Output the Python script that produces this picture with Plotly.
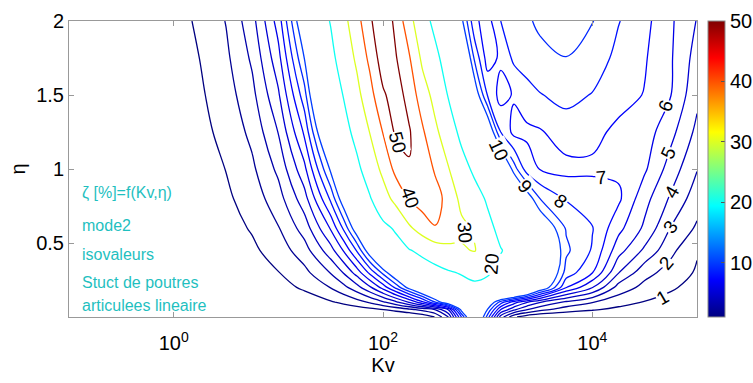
import plotly.graph_objects as go

# ---------------- data ----------------
log_kv = [-1.0, -0.5, 0.0, 0.25, 0.5, 0.75, 1.0, 1.25, 1.5, 1.625, 1.75, 1.875,
          2.0, 2.125, 2.25, 2.375, 2.5, 2.625, 2.75, 2.875, 3.0, 3.125, 3.25,
          3.375, 3.5, 3.75, 4.0, 4.25, 4.5, 4.75, 5.0]
eta = [0.0, 0.05, 0.1, 0.2, 0.3, 0.45, 0.6, 0.8, 1.0, 1.25, 1.5, 1.75, 2.0]

zeta_eta_000 = [0, 0, 0, 0, 0, 0, 0, 0, 0, 0, 0, 0,
                0, 0, 0, 0.3, 1.05, 3.0, 8.0, 13, 8.5, 3.5, 1.2, 0.4, 0.1, 0, 0, 0, 0, 0, 0]
zeta_eta_005 = [0.001, 0.003, 0.01, 0.017, 0.03, 0.054, 0.097, 0.17, 0.31, 0.41, 0.54, 0.73,
                0.97, 1.29, 1.72, 2.3, 3.06, 5.1, 10.5, 13.5, 9.9, 6.0, 4.2, 3.05, 2.3, 1.5, 1.1, 0.75, 0.5, 0.3, 0.15]
zeta_eta_010 = [0.003, 0.009, 0.028, 0.05, 0.09, 0.16, 0.28, 0.5, 0.9, 1.2, 1.6, 2.13,
                2.84, 3.8, 5.05, 6.7, 9.0, 11.5, 13.5, 14, 11.5, 8.5, 6.5, 5.05, 4.05, 2.8, 2.05, 1.4, 0.95, 0.62, 0.3]
zeta_eta_020 = [0.0065, 0.02, 0.065, 0.115, 0.2, 0.36, 0.65, 1.15, 2.04, 2.72, 3.62, 4.84,
                6.4, 8.3, 10.5, 12.5, 14.5, 16, 17.5, 18.5, 18.5, 17.5, 17, 15, 11.5, 7.05, 5.05, 2.6, 1.7, 1.15, 0.6]
zeta_eta_030 = [0.0097, 0.031, 0.097, 0.17, 0.31, 0.54, 0.97, 1.72, 3.06, 4.08, 5.43, 7.26,
                9.3, 11.5, 13.5, 15.5, 17.5, 19.3, 20.5, 22, 20.5, 18.5, 17, 16, 13, 8.6, 7.05, 4.05, 2.35, 1.6, 0.88]
zeta_eta_045 = [0.014, 0.046, 0.145, 0.26, 0.46, 0.81, 1.45, 2.58, 4.6, 6.1, 8.1, 10.9,
                14.0, 17, 19.5, 22, 24.5, 26.5, 29, 30.5, 26, 20.3, 18, 16.5, 13, 9.2, 7.9, 5.4, 3.8, 2.25, 1.1]
zeta_eta_060 = [0.019, 0.061, 0.19, 0.34, 0.61, 1.09, 1.94, 3.44, 6.1, 8.2, 10.9, 14.5,
                18, 21, 28.5, 34, 39.5, 38, 32, 29, 22, 18, 16, 14, 11.5, 8.9, 8.05, 6.3, 4.8, 2.95, 1.85]
zeta_eta_080 = [0.026, 0.08, 0.26, 0.46, 0.82, 1.45, 2.58, 4.6, 8.2, 10.9, 14.5, 19.4,
                25.8, 33, 40.5, 45, 44.5, 36, 27.5, 23, 19.0, 15, 13, 10.8, 9.0, 7.9, 7.6, 7.2, 5.35, 3.85, 2.45]
zeta_eta_100 = [0.032, 0.10, 0.32, 0.57, 1.02, 1.81, 3.23, 5.74, 10.2, 13.6, 18.1, 24.2,
                32.3, 43, 49.5, 47.5, 38.5, 30.5, 23, 18.5, 16.5, 12.5, 9.5, 7.5, 6.95, 6.7, 6.8, 6.8, 6.15, 4.55, 3.05]
zeta_eta_125 = [0.04, 0.13, 0.40, 0.72, 1.28, 2.26, 4.04, 7.2, 12.8, 17.0, 22.6, 30.3,
                40.4, 52, 51, 41.5, 32, 24, 18, 14, 11.5, 8.0, 6.7, 6.8, 6.9, 7.5, 7.3, 6.75, 6.5, 5.3, 3.75]
zeta_eta_150 = [0.048, 0.15, 0.48, 0.86, 1.53, 2.72, 4.85, 8.6, 15.3, 20.4, 27.2, 36.3,
                48.5, 55, 46, 35, 26.5, 19.5, 15, 11, 7.9, 6.6, 7.1, 7.6, 7.95, 8.3, 7.95, 7.4, 6.95, 6.02, 4.25]
zeta_eta_175 = [0.056, 0.18, 0.57, 1.01, 1.79, 3.17, 5.65, 10.05, 17.9, 23.8, 31.7, 42.4,
                55.5, 50.5, 41, 28, 21.5, 17, 12.5, 8.8, 6.5, 7.2, 8.2, 8.5, 8.7, 8.98, 8.6, 7.7, 7.1, 6.1, 4.6]
zeta_eta_200 = [0.064, 0.20, 0.65, 1.15, 2.04, 3.63, 6.45, 11.5, 20.4, 27.2, 36.2, 48.4,
                58, 47, 33.5, 22.6, 18.3, 14, 10.3, 7.2, 6.6, 8.0, 8.4, 8.85, 9.2, 9.5, 9.05, 8.05, 7.3, 6.15, 4.95]

levels_low = [1, 2, 3, 4, 5, 6, 7, 8, 9, 10]
levels_high = [20, 30, 40, 50]
cbar_ticks = [10, 20, 30, 40, 50]
xtick_vals = [0, 2, 4]
xtick_text = ["10<sup>0</sup>", "10<sup>2</sup>", "10<sup>4</sup>"]
ytick_vals = [0.5, 1, 1.5, 2]
ytick_text = ["0.5", "1", "1.5", "2"]

# contour labels (text, log10 Kv, eta, angle)
label_text = ["50", "40", "30", "20", "10", "9", "8", "7", "6", "5", "4", "3", "2", "1"]
label_x = [2.14, 2.26, 2.78, 3.04, 3.10, 3.36, 3.70, 4.09, 4.70, 4.73, 4.76, 4.75, 4.71, 4.67]
label_y = [1.18, 0.81, 0.57, 0.36, 1.13, 0.885, 0.78, 0.94, 1.43, 1.11, 0.85, 0.61, 0.365, 0.135]
label_angle = [75, 70, 85, -85, 65, 50, 35, -5, -70, -65, -60, -55, -50, -30]

note_lines = ["ζ [%]=f(Kv,η)", "mode2", "isovaleurs", "Stuct de poutres", "articulees lineaire"]
note_y = [0.84, 0.62, 0.42, 0.236, 0.08]

# ---------------- styling helpers ----------------
zeta = [zeta_eta_000, zeta_eta_005, zeta_eta_010, zeta_eta_020, zeta_eta_030, zeta_eta_045,
        zeta_eta_060, zeta_eta_080, zeta_eta_100, zeta_eta_125, zeta_eta_150, zeta_eta_175,
        zeta_eta_200]
CMIN, CMAX = 1, 50


def jet(t):
    def ch(v):
        return max(0.0, min(1.0, v))
    r = ch(1.5 - abs(4 * t - 3))
    g = ch(1.5 - abs(4 * t - 2))
    b = ch(1.5 - abs(4 * t - 1))
    return "rgb(%d,%d,%d)" % (round(r * 255), round(g * 255), round(b * 255))


def tnorm(v):
    return (v - CMIN) / (CMAX - CMIN)


jet_scale = [[0, jet(0)], [0.125, jet(0.125)], [0.375, jet(0.375)],
             [0.625, jet(0.625)], [0.875, jet(0.875)], [1, jet(1)]]
scale_low = [[(L - levels_low[0]) / (levels_low[-1] - levels_low[0]), jet(tnorm(L))] for L in levels_low]
scale_high = [[(L - levels_high[0]) / (levels_high[-1] - levels_high[0]), jet(tnorm(L))] for L in levels_high]

FONT = "Liberation Sans, Arial, Helvetica, sans-serif"

fig = go.Figure()
fig.add_trace(go.Contour(
    x=log_kv, y=eta, z=zeta, autocontour=False,
    contours=dict(start=levels_low[0], end=levels_low[-1], size=1, coloring="lines"),
    colorscale=scale_low, showscale=False, line=dict(width=1.3, smoothing=1.0),
    hoverinfo="skip"))
fig.add_trace(go.Contour(
    x=log_kv, y=eta, z=zeta, autocontour=False,
    contours=dict(start=levels_high[0], end=levels_high[-1], size=10, coloring="lines"),
    colorscale=scale_high, showscale=False, line=dict(width=1.3, smoothing=1.0),
    hoverinfo="skip"))
# trace carrying the continuous colour bar
fig.add_trace(go.Scatter(
    x=[log_kv[0]], y=[eta[-1]], mode="markers", hoverinfo="skip", showlegend=False,
    marker=dict(size=1, opacity=0, color=[CMIN], cmin=CMIN, cmax=CMAX, colorscale=jet_scale,
                showscale=True,
                colorbar=dict(x=1.0175, xanchor="left", xpad=0, y=0.5, yanchor="middle",
                              len=1, lenmode="fraction", ypad=0, thickness=17,
                              outlinecolor="#8a8a8a", outlinewidth=1,
                              tickvals=cbar_ticks, ticks="inside", ticklen=4,
                              tickcolor="#555", tickfont=dict(size=20, color="black", family=FONT)))))

for t, xx, yy, a in zip(label_text, label_x, label_y, label_angle):
    fig.add_annotation(x=xx, y=yy, xref="x", yref="y", text=t, showarrow=False,
                       xanchor="center", yanchor="middle",
                       textangle=a, font=dict(size=19, color="black", family=FONT),
                       bgcolor="white", borderpad=0)

for t, yy in zip(note_lines, note_y):
    fig.add_annotation(x=0.0175, y=yy, xref="paper", yref="y", text=t, showarrow=False,
                       xanchor="left", yanchor="middle",
                       font=dict(size=16, color="#1fbfbf", family=FONT))

axis_common = dict(showgrid=False, zeroline=False, showline=True, linecolor="#999",
                   linewidth=1, mirror="ticks", ticks="inside", ticklen=5, tickcolor="#999",
                   tickfont=dict(size=20, color="black", family=FONT))
fig.update_xaxes(range=[log_kv[0], log_kv[-1]], tickvals=xtick_vals, ticktext=xtick_text,
                 ticklabelstandoff=8,
                 title=dict(text="Kv", font=dict(size=20, color="black", family=FONT), standoff=2),
                 **axis_common)
fig.update_yaxes(range=[eta[0], eta[-1]], tickvals=ytick_vals, ticktext=ytick_text,
                 title=dict(text="η", font=dict(size=20, color="black", family=FONT), standoff=5),
                 **axis_common)
fig.update_layout(width=753, height=383,
                  margin=dict(l=69, r=56, t=21, b=66, autoexpand=False),
                  paper_bgcolor="white", plot_bgcolor="white", showlegend=False)
fig.write_html("out.html")
